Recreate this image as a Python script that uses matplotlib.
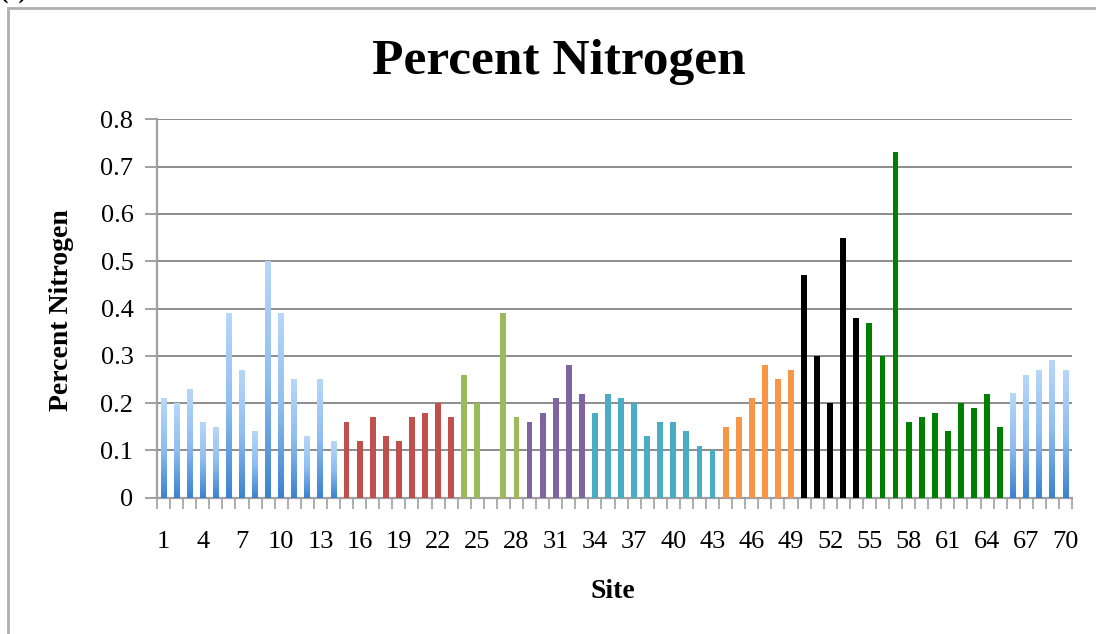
import numpy as np
import matplotlib
matplotlib.use("Agg")
import matplotlib.pyplot as plt
from matplotlib.colors import LinearSegmentedColormap
from matplotlib.patches import Rectangle

# Percent nitrogen per sampling site (site 26 has no reading)
sites = list(range(1, 71))
nitrogen = [
    0.21, 0.20, 0.23, 0.16, 0.15, 0.39, 0.27, 0.14, 0.50, 0.39, 0.25, 0.13, 0.25, 0.12,
    0.16, 0.12, 0.17, 0.13, 0.12, 0.17, 0.18, 0.20, 0.17,
    0.26, 0.20, np.nan, 0.39, 0.17,
    0.16, 0.18, 0.21, 0.28, 0.22,
    0.18, 0.22, 0.21, 0.20, 0.13, 0.16, 0.16, 0.14, 0.11, 0.10,
    0.15, 0.17, 0.21, 0.28, 0.25, 0.27,
    0.47, 0.30, 0.20, 0.55, 0.38,
    0.37, 0.30, 0.73, 0.16, 0.17, 0.18, 0.14, 0.20, 0.19, 0.22, 0.15,
    0.22, 0.26, 0.27, 0.29, 0.27,
]
# number of consecutive sites in each coloured group
group_sizes = [14, 9, 5, 5, 10, 6, 5, 11, 5]
group_colors = ["gradient", "#c0504d", "#9bbb59", "#8064a2", "#4bacc6",
                "#f79646", "#000000", "#008000", "gradient"]
tick_sites = sites[::3]

serif = "Liberation Serif"
plt.rcParams["font.family"] = serif

fig = plt.figure(figsize=(10.96, 6.34), dpi=100)
ax = fig.add_axes([157 / 1096, 1 - 497.7 / 634, (1072 - 157) / 1096, (497.7 - 119.3) / 634])

colors = []
for size, col in zip(group_sizes, group_colors):
    colors += [col] * size

bar_w = 0.45
blue_map = LinearSegmentedColormap.from_list("blue", ["#3a82cf", "#8fbef0", "#b8d7f8"])
grad = np.linspace(0, 1, 256).reshape(-1, 1)

for s, v, c in zip(sites, nitrogen, colors):
    if np.isnan(v):
        continue
    if c == "gradient":
        ax.imshow(grad, cmap=blue_map, origin="lower", aspect="auto",
                  extent=(s - bar_w / 2, s + bar_w / 2, 0, v), zorder=3)
    else:
        ax.bar(s, v, width=bar_w, color=c, zorder=3)

ax.set_xlim(0.5, 70.5)
ax.set_ylim(0, 0.8)

ax.set_yticks(np.arange(0, 0.81, 0.1))
ax.set_yticklabels(["0"] + [f"{t:.1f}" for t in np.arange(0.1, 0.81, 0.1)])
ax.yaxis.grid(True, color="#8c8c8c", linewidth=1.4, zorder=0)
ax.set_axisbelow(True)

ax.set_xticks(tick_sites)
ax.set_xticklabels([str(t) for t in tick_sites])
ax.set_xticks(np.arange(0.5, 71, 1), minor=True)
ax.tick_params(axis="x", which="major", length=0, pad=24, labelsize=19)
ax.tick_params(axis="x", which="minor", length=8, width=1.2, color="#a0a0a0", direction="out")
ax.tick_params(axis="y", length=9, width=1.4, color="#a0a0a0", pad=8, labelsize=19)

for side in ["top", "right"]:
    ax.spines[side].set_visible(False)
for side in ["left", "bottom"]:
    ax.spines[side].set_color("#a0a0a0")
    ax.spines[side].set_linewidth(1.6)

fig.text(559 / 1096, 1 - 62 / 634, "Percent Nitrogen", ha="center", va="center",
         fontsize=37, fontweight="bold")
fig.text(62 / 1096, 1 - 310 / 634, "Percent Nitrogen", ha="center", va="center",
         rotation=90, fontsize=20, fontweight="bold")
fig.text(613 / 1096, 1 - 592 / 634, "Site", ha="center", va="center",
         fontsize=20, fontweight="bold")

# outer chart frame and panel letter
fig.patches.append(Rectangle((8 / 1096, -0.05), 1.1, 1 - 8 / 634 + 0.05,
                             transform=fig.transFigure, fill=False,
                             edgecolor="#b0b0b0", linewidth=2))
fig.text(0.0, 1.012, "(c)", ha="left", va="center", fontsize=18, fontweight="bold")

fig.savefig("out.png", dpi=100)
